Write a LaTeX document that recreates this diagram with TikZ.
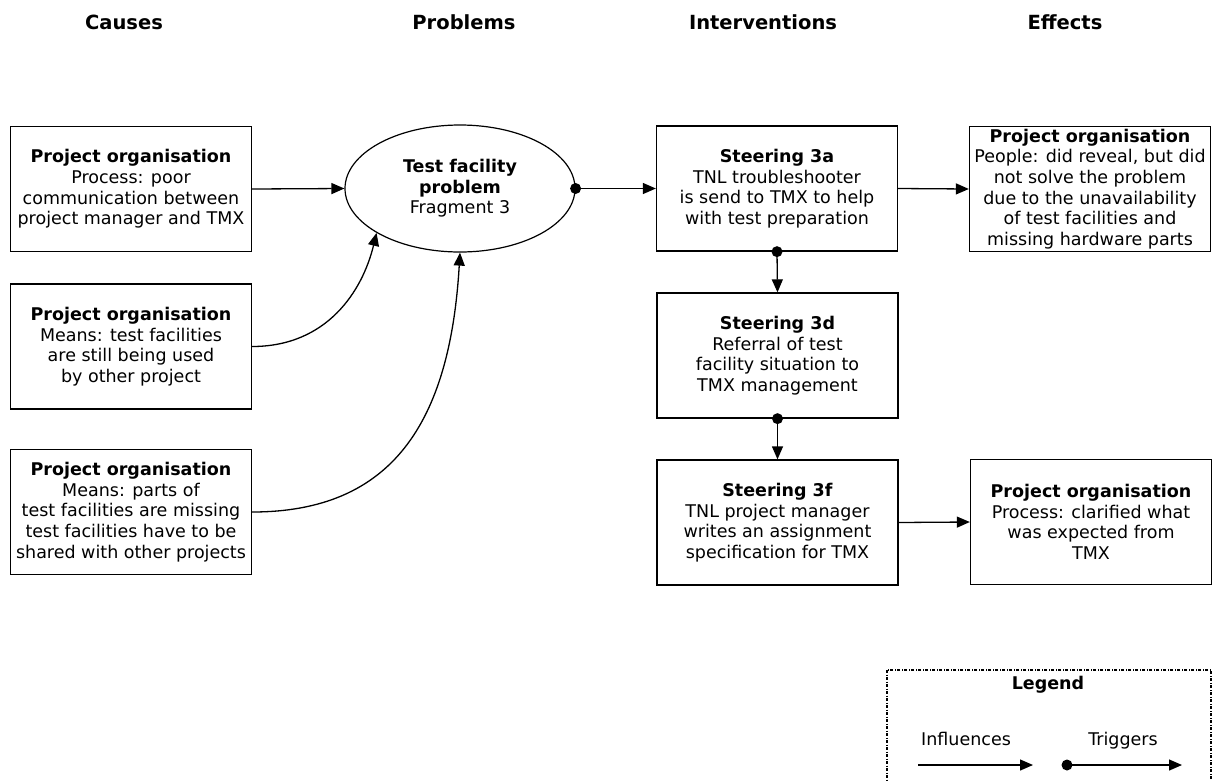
\documentclass[tikz,border=0pt]{standalone}
\usepackage{fontspec}
\setmainfont{DejaVu Sans}
\usetikzlibrary{shapes.geometric,arrows.meta}
\begin{document}
\begin{tikzpicture}[x=1pt,y=1pt,
  every node/.style={font=\fontsize{17.5}{20.6}\selectfont},
  colhead/.style={font=\fontsize{19.5}{22}\selectfont\bfseries},
  box/.style={draw,line width=1.3pt,minimum width=241pt,minimum height=125pt,
              align=center,inner sep=0pt},
  problem/.style={draw,ellipse,line width=1.2pt,minimum width=230pt,
              minimum height=127pt,align=center,inner sep=0pt},
  influence/.style={line width=1.3pt,-{Triangle[length=13pt,width=11pt]}},
  trigger/.style={line width=1.3pt,-{Triangle[length=13pt,width=11pt]}},
  dot/.style={fill=black},
  legendframe/.style={line width=1.3pt,dash pattern=on 3pt off 1.5pt on 1pt off 1.5pt}
]
\useasboundingbox (0,0) rectangle (1213,-780);

% column headings
\node[colhead] (hc) at (124,-22) {Causes};
\node[colhead] (hp) at (464,-22) {Problems};
\node[colhead] (hi) at (763,-22) {Interventions};
\node[colhead] (he) at (1065,-22) {Effects};

% causes
\node[box] (c1) at (131,-189) {\textbf{Project organisation}\\Process: poor\\communication between\\project manager and TMX};
\node[box] (c2) at (131,-346.5) {\textbf{Project organisation}\\Means: test facilities\\are still being used\\by other project};
\node[box] (c3) at (131,-512) {\textbf{Project organisation}\\Means: parts of\\test facilities are missing\\test facilities have to be\\shared with other projects};

% problem
\node[problem] (p) at (460,-188.5) {\textbf{Test facility}\\\textbf{problem}\\Fragment 3};

% interventions
\node[box] (s3a) at (777,-188.5) {\textbf{Steering 3a}\\TNL troubleshooter\\is send to TMX to help\\with test preparation};
\node[box] (s3d) at (777.5,-355.5) {\textbf{Steering 3d}\\Referral of test\\facility situation to\\TMX management};
\node[box] (s3f) at (777.5,-522.5) {\textbf{Steering 3f}\\TNL project manager\\writes an assignment\\specification for TMX};

% effects
\node[box] (e1) at (1090,-189) {\textbf{Project organisation}\\People: did reveal, but did\\not solve the problem\\due to the unavailability\\of test facilities and\\missing hardware parts};
\node[box] (e2) at (1091,-522) {\textbf{Project organisation}\\Process: clarified what\\was expected from\\TMX};

% influences
\draw[influence] (c1.east) -- (p.west);
\draw[influence] (c2.east) .. controls +(75,0) and +(-14,-58) .. (p.208);
\draw[influence] (c3.east) .. controls +(140,0) and +(-10,-170) .. (p.south);
\draw[influence] (s3a.east) -- (e1.west);
\draw[influence] (s3f.east) -- (e2.west);

% triggers
\draw[trigger] (p.east) -- (s3a.west);
\fill[dot] (p.east) circle (5.5pt);
\draw[trigger] (s3a.south) -- (s3d.north);
\fill[dot] (s3a.south) circle (5.5pt);
\draw[trigger] (s3d.south) -- (s3f.north);
\fill[dot] (s3d.south) circle (5.5pt);

% legend
\draw[legendframe] (887,-670) rectangle (1211,-790);
\node[font=\fontsize{17.5}{20}\selectfont\bfseries] (lg) at (1048,-685) {Legend};
\node[anchor=base] (li) at (966,-745) {Influences};
\node[anchor=base] (lt) at (1123,-745) {Triggers};
\coordinate (li1) at (918,-765);
\coordinate (li2) at (1033,-765);
\coordinate (lt1) at (1067,-765);
\coordinate (lt2) at (1182,-765);
\draw[influence] (li1) -- (li2);
\draw[trigger] (lt1) -- (lt2);
\fill[dot] (lt1) circle (5.5pt);
\end{tikzpicture}
\end{document}
